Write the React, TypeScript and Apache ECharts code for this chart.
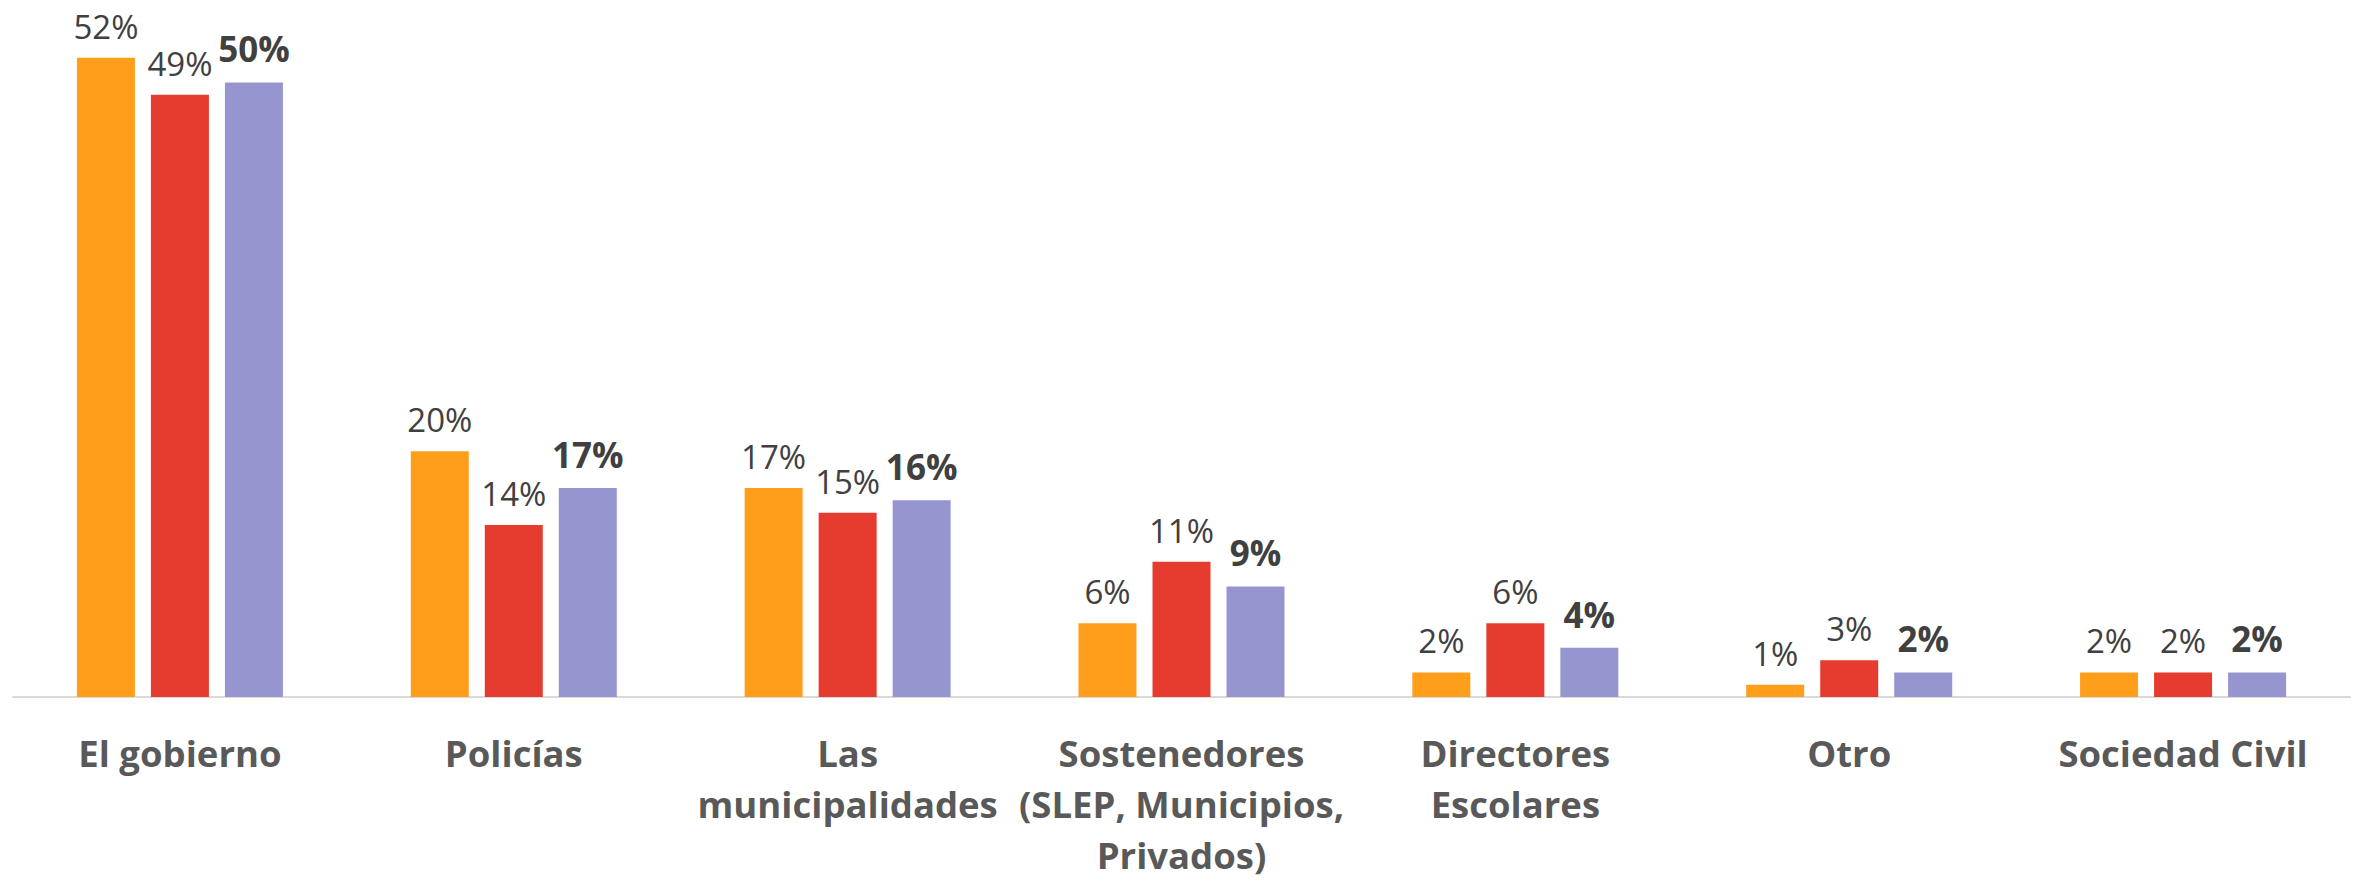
import React, { useEffect, useRef } from "react";
import * as echarts from "echarts";

const categories = [
  "El gobierno",
  "Policías",
  "Las\nmunicipalidades",
  "Sostenedores\n(SLEP, Municipios,\nPrivados)",
  "Directores\nEscolares",
  "Otro",
  "Sociedad Civil",
];
const seriesNames = ["Serie 1", "Serie 2", "Serie 3"];
const serie1 = [52, 20, 17, 6, 2, 1, 2];
const serie2 = [49, 14, 15, 11, 6, 3, 2];
const serie3 = [50, 17, 16, 9, 4, 2, 2];
const colors = ["#FF9E1B", "#E63B2F", "#9795D0"];

export default function App() {
  const ref = useRef<HTMLDivElement>(null);
  useEffect(() => {
    document.body.style.margin = "0";
    const chart = echarts.init(ref.current!, null, { renderer: "svg" });
    const font = "'Open Sans', 'Noto Sans', sans-serif";
    const mk = (name: string, data: number[], color: string, bold: boolean) => ({
      name,
      type: "bar",
      data,
      barWidth: 58,
      barGap: "27.6%",
      itemStyle: { color },
      label: {
        show: true,
        position: "top",
        distance: bold ? 16 : 15,
        formatter: "{c}%",
        fontFamily: font,
        fontSize: bold ? 35 : 33,
        fontWeight: bold ? "bold" : "normal",
        color: "#404040",
      },
    });
    chart.setOption({
      animation: false,
      backgroundColor: "#ffffff",
      grid: { left: 13, right: 9, top: 21, bottom: 179.5, containLabel: false },
      xAxis: {
        type: "category",
        data: categories,
        axisLine: { show: true, lineStyle: { color: "#D9D9D9", width: 2 } },
        axisTick: { show: false },
        axisLabel: {
          interval: 0,
          margin: 30,
          fontFamily: font,
          fontSize: 36.5,
          fontWeight: "bold",
          color: "#595959",
          lineHeight: 51,
          align: "center",
        },
      },
      yAxis: {
        type: "value",
        min: 0,
        max: 55,
        show: false,
        splitLine: { show: false },
      },
      series: [
        mk(seriesNames[0], serie1, colors[0], false),
        mk(seriesNames[1], serie2, colors[1], false),
        mk(seriesNames[2], serie3, colors[2], true),
      ],
    });
    return () => chart.dispose();
  }, []);
  return <div ref={ref} style={{ width: 2359, height: 880 }} />;
}
